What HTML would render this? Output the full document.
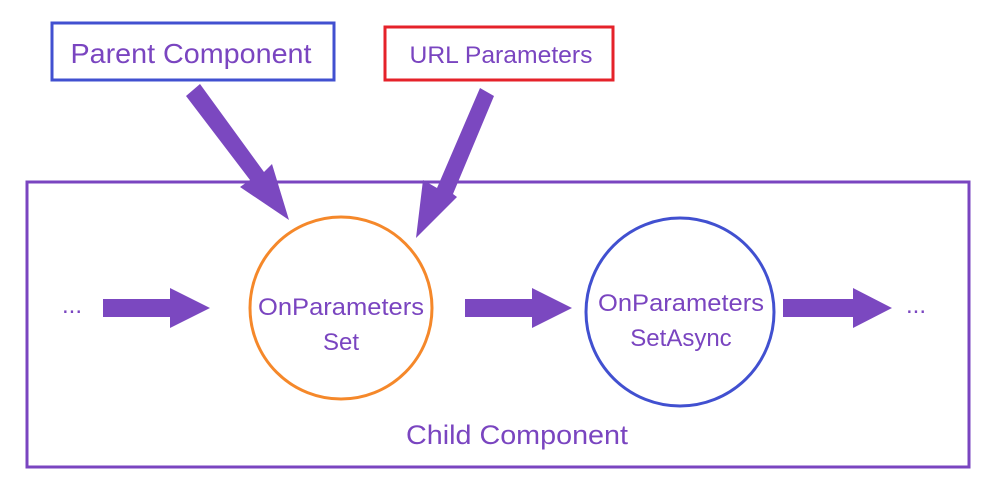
<!DOCTYPE html>
<html><head><style>body{margin:0;background:#fff}svg{display:block}</style></head><body>
<svg width="1000" height="503" viewBox="0 0 1000 503" xmlns="http://www.w3.org/2000/svg" font-family="Liberation Sans, sans-serif" fill="#7a45c0">
<rect x="0" y="0" width="1000" height="503" fill="#fff"/>
<rect x="52" y="23" width="282" height="57" fill="none" stroke="#4150d0" stroke-width="3"/>
<text x="191" y="63" font-size="28" text-anchor="middle" textLength="241" lengthAdjust="spacingAndGlyphs">Parent Component</text>
<rect x="385" y="27" width="228" height="53" fill="none" stroke="#e5222a" stroke-width="3"/>
<text x="501" y="63" font-size="24" text-anchor="middle" textLength="183" lengthAdjust="spacingAndGlyphs">URL Parameters</text>
<rect x="27" y="182" width="942" height="285" fill="none" stroke="#7a45c0" stroke-width="3"/>
<circle cx="341" cy="308" r="91" fill="none" stroke="#f5882a" stroke-width="3"/>
<circle cx="680" cy="312" r="94" fill="none" stroke="#4150d0" stroke-width="3"/>
<text x="341" y="315" font-size="24" text-anchor="middle" textLength="166" lengthAdjust="spacingAndGlyphs">OnParameters</text>
<text x="341" y="350" font-size="24" text-anchor="middle">Set</text>
<text x="681" y="311" font-size="24" text-anchor="middle" textLength="166" lengthAdjust="spacingAndGlyphs">OnParameters</text>
<text x="681" y="346" font-size="24" text-anchor="middle">SetAsync</text>
<text x="517" y="444" font-size="27" text-anchor="middle" textLength="222" lengthAdjust="spacingAndGlyphs">Child Component</text>
<text x="72" y="313" font-size="24" text-anchor="middle">...</text>
<text x="916" y="313" font-size="24" text-anchor="middle">...</text>
<g fill="#7b48c0">
<polygon points="103,299 170,299 170,288 210,308 170,328 170,317 103,317"/>
<polygon points="465,299 532,299 532,288 572,308 532,328 532,317 465,317"/>
<polygon points="783,299 853,299 853,288 892,308 853,328 853,317 783,317"/>
<polygon points="186,96 200,84 264,172 272,164 289,220 240,187 250,180"/>
<polygon points="480,88 494,96 453,194 457,197 416,238 423,180 437,188"/>
</g>
</svg>
</body></html>
